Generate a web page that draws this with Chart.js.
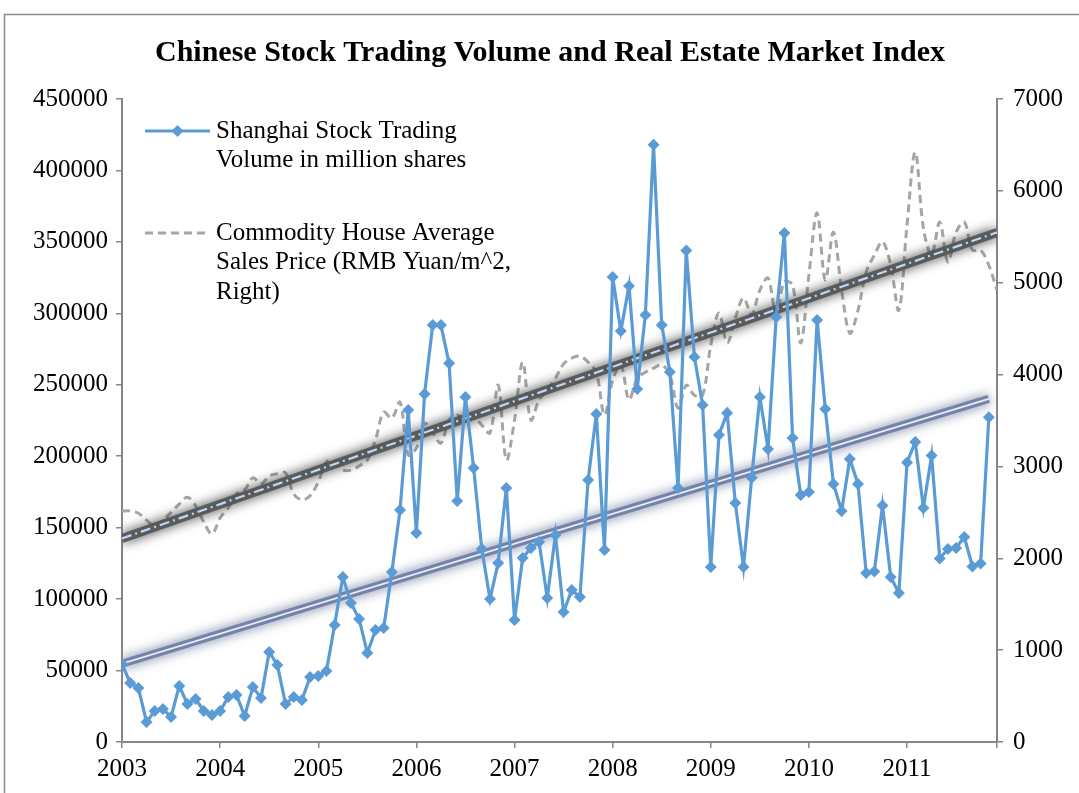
<!DOCTYPE html>
<html>
<head>
<meta charset="utf-8">
<script src="https://cdn.jsdelivr.net/npm/chart.js@4.4.1/dist/chart.umd.min.js"></script>
<style>
  html, body { margin: 0; padding: 0; background: #fff; overflow: hidden; }
  #wrap { position: relative; width: 1079px; height: 793px; }
</style>
</head>
<body>
<div id="wrap"><canvas id="c" width="1079" height="793"></canvas></div>
<script>
// Year tick labels (one every 12 months, starting January 2003)
const yearLabels = ['2003', '2004', '2005', '2006', '2007', '2008', '2009', '2010', '2011'];
const monthsPerYear = 12;

// Shanghai stock trading volume, million shares, monthly from Jan 2003
const stockVolume = [
  54600, 41300, 37800, 14000, 21700, 23100, 17500, 39200, 26600, 30100, 21700, 18900,
  21700, 31500, 32900, 18200, 38500, 30800, 63000, 53900, 26600, 31500, 29400, 45500,
  46200, 49700, 81900, 115500, 97300, 86100, 62300, 78400, 79800, 119000, 162400, 232400,
  146300, 243600, 291900, 291900, 265000, 168700, 241500, 191800, 135000, 100000, 125300, 177800,
  85400, 128800, 135800, 140000, 100800, 144900, 91000, 106400, 101500, 183400, 229600, 134400,
  325500, 287700, 319200, 247100, 298900, 417900, 291900, 259000, 177800, 344000, 269500, 235900,
  122500, 214900, 230300, 167300, 122500, 185000, 241500, 205100, 297500, 356300, 212800, 172900,
  175000, 295400, 233100, 180600, 161700, 198100, 180600, 118300, 119300, 165500, 115500, 104300,
  195600, 210000, 163800, 200500, 128500, 135100, 135800, 143500, 122800, 125000, 227200
];

// Commodity house average sales price, RMB Yuan per m^2, monthly from Jan 2003
const housePrice = [
  2515, 2515, 2490, 2415, 2350, 2415, 2500, 2590, 2665, 2570, 2395, 2265,
  2440, 2550, 2700, 2745, 2875, 2810, 2895, 2920, 2930, 2700, 2635, 2680,
  2830, 3050, 3050, 2960, 2960, 3005, 3070, 3290, 3590, 3525, 3700, 3125,
  3200, 3470, 3365, 3255, 3505, 3560, 3505, 3540, 3450, 3365, 3885, 3070,
  3505, 4135, 3505, 3725, 3830, 3960, 4115, 4180, 4200, 4135, 4025, 3560,
  3940, 4105, 3725, 3960, 4025, 4070, 4105, 3995, 3635, 3885, 3775, 3775,
  4320, 4670, 4345, 4615, 4835, 4650, 4920, 5050, 4650, 5010, 4975, 4345,
  5085, 5760, 5030, 5550, 4920, 4450, 4700, 5115, 5300, 5445, 5190, 4700,
  5630, 6420, 5595, 5300, 5660, 5225, 5550, 5660, 5355, 5355, 5190, 4920
];

const volumeLegend = ['Shanghai Stock Trading', 'Volume in million shares'];
const priceLegend = ['Commodity House Average', 'Sales Price (RMB Yuan/m^2,', 'Right)'];
const chartTitle = 'Chinese Stock Trading Volume and Real Estate Market Index';

const BLUE = '#5b9bd5';
const GREY = '#a5a5a5';
const AXIS = '#868686';
const SERIF = "'Liberation Serif', 'Times New Roman', serif";

const toPoints = arr => arr.map((v, i) => ({ x: i, y: v }));

// Least-squares linear trend over the month index
function linearTrend(values) {
  const n = values.length;
  let sx = 0, sy = 0, sxx = 0, sxy = 0;
  values.forEach((v, i) => { sx += i; sy += v; sxx += i * i; sxy += i * v; });
  const slope = (n * sxy - sx * sy) / (n * sxx - sx * sx);
  const intercept = (sy - slope * sx) / n;
  return [{ x: 0, y: intercept }, { x: n - 1, y: intercept + slope * (n - 1) }];
}

const volumeTrend = linearTrend(stockVolume);
const priceTrend = linearTrend(housePrice);

// Soft shadow behind the trend lines
const glowPlugin = {
  id: 'glow',
  beforeDatasetDraw(chart, args) {
    const ds = chart.data.datasets[args.index];
    if (ds.glowColor) {
      chart.ctx.save();
      chart.ctx.shadowColor = ds.glowColor;
      chart.ctx.shadowBlur = ds.glowBlur;
    }
  },
  afterDatasetDraw(chart, args) {
    const ds = chart.data.datasets[args.index];
    if (ds.glowColor) chart.ctx.restore();
  }
};

// Outer frame and title
const framePlugin = {
  id: 'frame',
  beforeDraw(chart) {
    const ctx = chart.ctx;
    ctx.save();
    ctx.fillStyle = '#fff';
    ctx.fillRect(0, 0, chart.width, chart.height);
    ctx.strokeStyle = '#8c8c8c';
    ctx.lineWidth = 1.5;
    ctx.strokeRect(4.5, 14.5, 1200, 900);
    ctx.fillStyle = '#000';
    ctx.font = 'bold 30px ' + SERIF;
    ctx.textAlign = 'center';
    ctx.textBaseline = 'middle';
    ctx.fillText(chartTitle, 550, 53);
    ctx.restore();
  }
};

// Legend drawn inside the plot, top-left
const legendPlugin = {
  id: 'innerLegend',
  afterDraw(chart) {
    const ctx = chart.ctx;
    const x0 = 145, x1 = 210, tx = 216, lh = 29.5;
    ctx.save();
    // volume entry
    let y = 131;
    ctx.strokeStyle = BLUE;
    ctx.lineWidth = 3;
    ctx.beginPath(); ctx.moveTo(x0, y); ctx.lineTo(x1, y); ctx.stroke();
    ctx.fillStyle = BLUE;
    const r = 6, cx = (x0 + x1) / 2;
    ctx.beginPath();
    ctx.moveTo(cx, y - r); ctx.lineTo(cx + r, y); ctx.lineTo(cx, y + r); ctx.lineTo(cx - r, y);
    ctx.closePath(); ctx.fill();
    ctx.fillStyle = '#000';
    ctx.font = '25px ' + SERIF;
    ctx.textAlign = 'left';
    ctx.textBaseline = 'middle';
    volumeLegend.forEach((t, i) => ctx.fillText(t, tx, y + i * lh));
    // price entry
    y = 233;
    ctx.strokeStyle = GREY;
    ctx.lineWidth = 3;
    ctx.setLineDash([8, 5]);
    ctx.beginPath(); ctx.moveTo(x0, y); ctx.lineTo(x1, y); ctx.stroke();
    ctx.setLineDash([]);
    priceLegend.forEach((t, i) => ctx.fillText(t, tx, y + i * lh));
    ctx.restore();
  }
};

const tickFont = { family: SERIF, size: 25 };

new Chart(document.getElementById('c'), {
  type: 'line',
  data: {
    datasets: [
      {
        label: 'Shanghai Stock Trading Volume in million shares',
        data: toPoints(stockVolume),
        yAxisID: 'yVol',
        borderColor: BLUE,
        backgroundColor: BLUE,
        borderWidth: 3.2,
        pointStyle: 'rectRot',
        pointRadius: 6,
        pointBorderWidth: 0,
        tension: 0,
        order: 0
      },
      {
        label: 'volume trend',
        data: volumeTrend,
        yAxisID: 'yVol',
        borderColor: '#e4edf9',
        borderWidth: 1.8,
        pointRadius: 0,
        order: 1
      },
      {
        label: 'volume trend glow',
        data: volumeTrend,
        yAxisID: 'yVol',
        borderColor: 'rgba(105,120,160,0.85)',
        borderWidth: 8,
        pointRadius: 0,
        glowColor: 'rgba(90,105,145,1)',
        glowBlur: 12,
        order: 2
      },
      {
        label: 'price trend',
        data: priceTrend,
        yAxisID: 'yPrice',
        borderColor: '#bcd7f7',
        borderWidth: 2.2,
        borderDash: [10, 4, 2, 4],
        pointRadius: 0,
        order: 3
      },
      {
        label: 'price trend glow',
        data: priceTrend,
        yAxisID: 'yPrice',
        borderColor: 'rgba(85,85,85,0.92)',
        borderWidth: 9,
        pointRadius: 0,
        glowColor: 'rgba(50,50,50,1)',
        glowBlur: 12,
        order: 4
      },
      {
        label: 'Commodity House Average Sales Price (RMB Yuan/m^2, Right)',
        data: toPoints(housePrice),
        yAxisID: 'yPrice',
        borderColor: GREY,
        borderWidth: 3,
        borderDash: [8, 5],
        pointRadius: 0,
        tension: 0.35,
        order: 5
      }
    ]
  },
  options: {
    responsive: false,
    animation: false,
    events: [],
    layout: { padding: { top: 99, left: 0, right: 0, bottom: 0 } },
    plugins: { legend: { display: false }, tooltip: { enabled: false }, title: { display: false } },
    scales: {
      x: {
        type: 'linear',
        min: 0,
        max: 107,
        afterFit: s => { s.height = 51; },
        afterBuildTicks: s => {
          s.ticks = yearLabels.map((_, i) => ({ value: i * monthsPerYear })).concat([{ value: 107 }]);
        },
        ticks: {
          font: tickFont,
          color: '#000',
          padding: 6,
          maxRotation: 0,
          autoSkip: false,
          callback: v => (v % monthsPerYear === 0 ? yearLabels[v / monthsPerYear] : '')
        },
        grid: { display: true, drawOnChartArea: false, drawTicks: true, tickLength: 6, color: AXIS, lineWidth: 1.5 },
        border: { display: true, color: AXIS, width: 2 }
      },
      yVol: {
        position: 'left',
        min: 0,
        max: 450000,
        afterFit: s => { s.width = 122; },
        ticks: { stepSize: 50000, font: tickFont, color: '#000', padding: 8, callback: v => String(v) },
        grid: { display: true, drawOnChartArea: false, drawTicks: true, tickLength: 6, color: AXIS, lineWidth: 1.5 },
        border: { display: true, color: AXIS, width: 2 }
      },
      yPrice: {
        position: 'right',
        min: 0,
        max: 7000,
        afterFit: s => { s.width = 82; },
        ticks: { stepSize: 1000, font: tickFont, color: '#000', padding: 10, callback: v => String(v) },
        grid: { display: true, drawOnChartArea: false, drawTicks: true, tickLength: 6, color: AXIS, lineWidth: 1.5 },
        border: { display: true, color: AXIS, width: 2 }
      }
    }
  },
  plugins: [framePlugin, glowPlugin, legendPlugin]
});
</script>
</body>
</html>
